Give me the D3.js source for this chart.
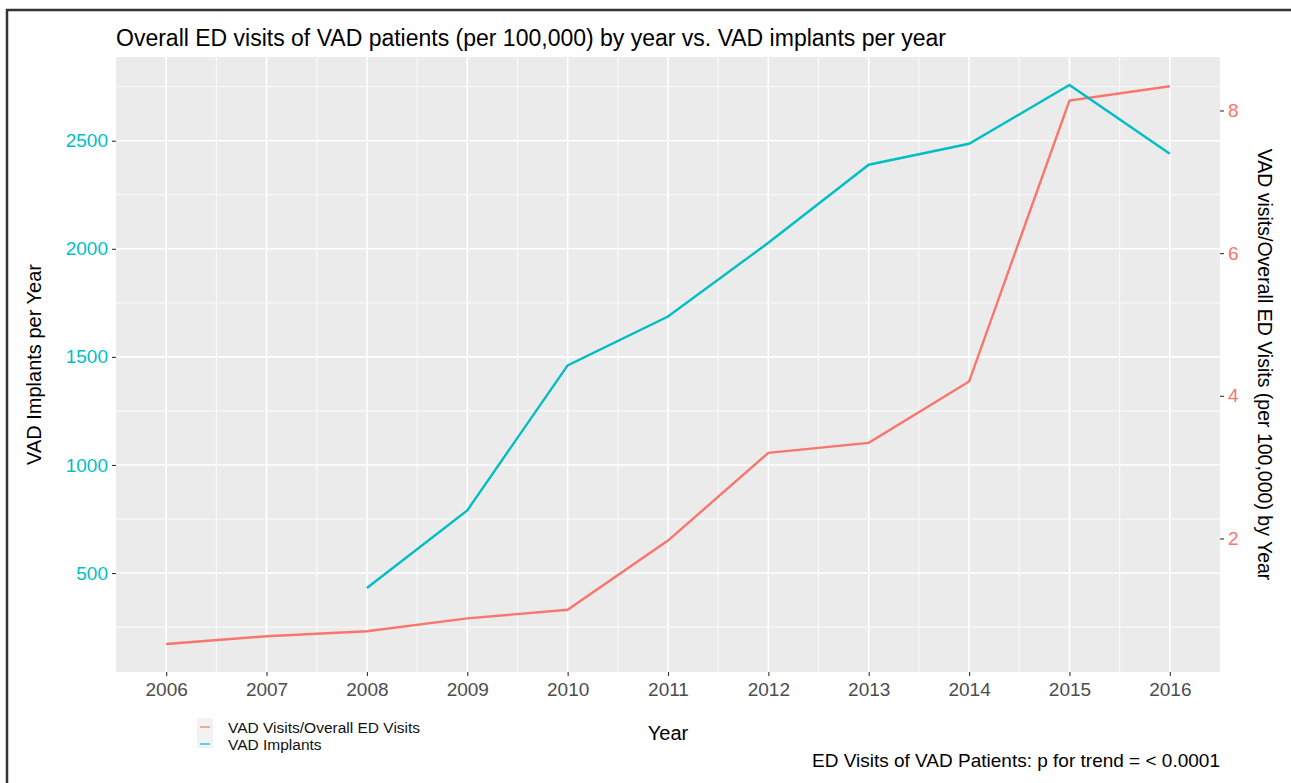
<!DOCTYPE html>
<html>
<head>
<meta charset="utf-8">
<script src="https://cdn.jsdelivr.net/npm/d3@7.9.0/dist/d3.min.js"></script>
<style>
  body { margin: 0; background: #fff; }
  text { font-family: "Liberation Sans", Arial, sans-serif; }
</style>
</head>
<body>
<div id="chart"></div>
<script>
// Data
const years = [2006, 2007, 2008, 2009, 2010, 2011, 2012, 2013, 2014, 2015, 2016];
const visitRates = [0.52, 0.63, 0.70, 0.88, 1.00, 1.97, 3.20, 3.34, 4.20, 8.14, 8.34];
const implantYears = [2008, 2009, 2010, 2011, 2012, 2013, 2014, 2015, 2016];
const implants = [431, 790, 1461, 1687, 2028, 2389, 2486, 2758, 2440];
const leftTicks = [500, 1000, 1500, 2000, 2500];
const rightTicks = [2, 4, 6, 8];
const scaleFactor = 330; // secondary axis: rate = implants / 330

const W = 1291, H = 783;
const margin = {top: 57, right: 71, bottom: 111, left: 116};
const width = W - margin.left - margin.right,
      height = H - margin.top - margin.bottom;

const red = "#F8766D", teal = "#00BFC4";

const svg = d3.select("#chart")
  .append("svg")
    .attr("width", W)
    .attr("height", H);

// screenshot frame
svg.append("line").attr("x1", 6).attr("x2", W).attr("y1", 10).attr("y2", 10)
  .attr("stroke", "#333").attr("stroke-width", 2.5);
svg.append("line").attr("x1", 7).attr("x2", 7).attr("y1", 9).attr("y2", H)
  .attr("stroke", "#333").attr("stroke-width", 2.5);

const g = svg.append("g")
  .attr("transform", `translate(${margin.left}, ${margin.top})`);

// X scale with ggplot-like 5% expansion
const x = d3.scaleLinear()
  .domain([2006 - 0.5, 2016 + 0.5])
  .range([0, width]);

const allLeft = visitRates.map(v => v * scaleFactor).concat(implants);
const lo = d3.min(allLeft), hi = d3.max(allLeft), pad = (hi - lo) * 0.05;
const y = d3.scaleLinear()
  .domain([lo - pad, hi + pad])
  .range([height, 0]);
const yRight = d3.scaleLinear()
  .domain(y.domain().map(v => v / scaleFactor))
  .range([height, 0]);

// panel
g.append("rect")
  .attr("width", width).attr("height", height)
  .attr("fill", "#EBEBEB");

// minor grid
const minorX = d3.range(2006.5, 2016, 1);
const minorY = [250, 750, 1250, 1750, 2250, 2750];
g.selectAll(".mx").data(minorX).join("line")
  .attr("x1", d => x(d)).attr("x2", d => x(d))
  .attr("y1", 0).attr("y2", height)
  .attr("stroke", "#fff").attr("stroke-width", 0.8);
g.selectAll(".my").data(minorY.filter(d => y(d) > 0 && y(d) < height)).join("line")
  .attr("x1", 0).attr("x2", width)
  .attr("y1", d => y(d)).attr("y2", d => y(d))
  .attr("stroke", "#fff").attr("stroke-width", 0.8);

// major grid
g.selectAll(".gx").data(years).join("line")
  .attr("x1", d => x(d)).attr("x2", d => x(d))
  .attr("y1", 0).attr("y2", height)
  .attr("stroke", "#fff").attr("stroke-width", 1.6);
g.selectAll(".gy").data(leftTicks).join("line")
  .attr("x1", 0).attr("x2", width)
  .attr("y1", d => y(d)).attr("y2", d => y(d))
  .attr("stroke", "#fff").attr("stroke-width", 1.6);

// lines
const line = d3.line().x(d => x(d[0])).y(d => y(d[1]));
g.append("path")
  .datum(d3.zip(years, visitRates.map(v => v * scaleFactor)))
  .attr("d", line)
  .attr("fill", "none").attr("stroke", red).attr("stroke-width", 2.4);
g.append("path")
  .datum(d3.zip(implantYears, implants))
  .attr("d", line)
  .attr("fill", "none").attr("stroke", teal).attr("stroke-width", 2.4);

// axes
function styleAxis(sel, color) {
  sel.select(".domain").remove();
  sel.selectAll(".tick line").attr("stroke", "#333").attr("stroke-width", 1.1);
  sel.selectAll(".tick text")
    .attr("fill", color)
    .style("font-size", "19px")
    .style("font-family", "Liberation Sans, Arial, sans-serif");
}

g.append("g")
  .attr("transform", `translate(0, ${height})`)
  .call(d3.axisBottom(x).tickValues(years).tickFormat(d3.format("d"))
    .tickSize(4).tickPadding(7))
  .call(s => styleAxis(s, "#4D4D4D"));

g.append("g")
  .call(d3.axisLeft(y).tickValues(leftTicks).tickFormat(d3.format("d"))
    .tickSize(4).tickPadding(4))
  .call(s => styleAxis(s, teal));

g.append("g")
  .attr("transform", `translate(${width}, 0)`)
  .call(d3.axisRight(yRight).tickValues(rightTicks).tickFormat(d3.format("d"))
    .tickSize(4).tickPadding(4))
  .call(s => styleAxis(s, red));

// title
svg.append("text")
  .attr("x", margin.left).attr("y", 46)
  .attr("fill", "#000").style("font-size", "23px")
  .text("Overall ED visits of VAD patients (per 100,000) by year vs. VAD implants per year");

// axis titles
svg.append("text")
  .attr("x", margin.left + width / 2).attr("y", 740)
  .attr("text-anchor", "middle").style("font-size", "20px")
  .text("Year");

svg.append("text")
  .attr("transform", `translate(41, ${margin.top + height / 2}) rotate(-90)`)
  .attr("text-anchor", "middle").style("font-size", "20px")
  .text("VAD Implants per Year");

svg.append("text")
  .attr("transform", `translate(1258, ${margin.top + height / 2}) rotate(90)`)
  .attr("text-anchor", "middle").style("font-size", "19.5px")
  .text("VAD visits/Overall ED Visits (per 100,000) by Year");

// legend
const legendItems = [
  {label: "VAD Visits/Overall ED Visits", color: red},
  {label: "VAD Implants", color: teal}
];
const lg = svg.append("g").attr("transform", "translate(197, 718)");
lg.append("rect").attr("width", 16).attr("height", 30).attr("fill", "#F2F2F2");
lg.selectAll(".key").data(legendItems).join("line")
  .attr("x1", 3).attr("x2", 13)
  .attr("y1", (d, i) => 9 + i * 17).attr("y2", (d, i) => 9 + i * 17)
  .attr("stroke", d => d.color).attr("stroke-width", 1.6).attr("opacity", 0.75);
lg.selectAll(".lbl").data(legendItems).join("text")
  .attr("x", 31).attr("y", (d, i) => 15 + i * 17)
  .style("font-size", "15.5px").attr("fill", "#111")
  .text(d => d.label);

// caption
svg.append("text")
  .attr("x", margin.left + width).attr("y", 767)
  .attr("text-anchor", "end").style("font-size", "19px")
  .text("ED Visits of VAD Patients: p for trend = < 0.0001");
</script>
</body>
</html>
